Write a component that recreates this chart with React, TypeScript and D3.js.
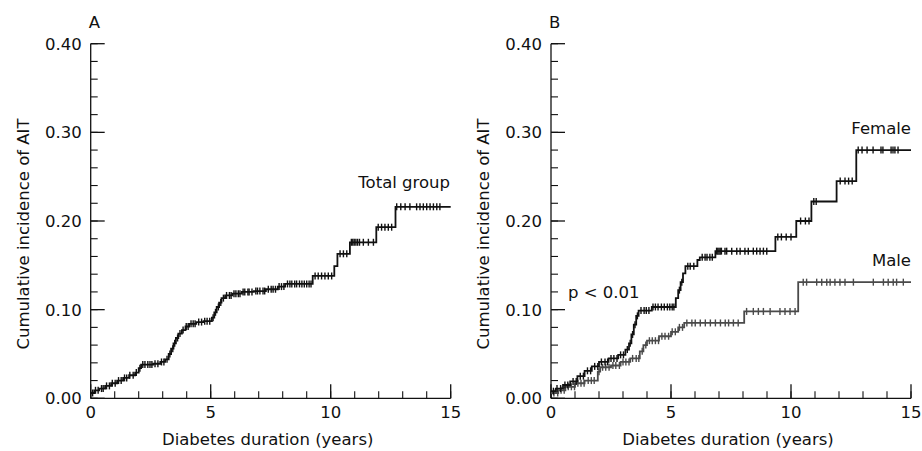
import React from "react";
import * as d3 from "d3";

// step points [years, cumulative incidence]
const totalSteps: [number, number][] = [
  [0, 0.006], [0.15, 0.009], [0.35, 0.011], [0.6, 0.014], [0.85, 0.017], [1.1, 0.02],
  [1.35, 0.023], [1.6, 0.026], [1.85, 0.029], [2.0, 0.034], [2.1, 0.038], [2.6, 0.039],
  [2.9, 0.041], [3.1, 0.044], [3.25, 0.05], [3.35, 0.056], [3.45, 0.062], [3.55, 0.068],
  [3.65, 0.073], [3.8, 0.077], [3.95, 0.081], [4.1, 0.084], [4.4, 0.086], [4.7, 0.087],
  [5.05, 0.091], [5.15, 0.097], [5.25, 0.103], [5.35, 0.108], [5.45, 0.113], [5.6, 0.116],
  [5.9, 0.118], [6.3, 0.12], [6.8, 0.121], [7.3, 0.123], [7.8, 0.126], [8.1, 0.129],
  [9.25, 0.138], [10.15, 0.149], [10.28, 0.163], [10.8, 0.176], [11.9, 0.193], [12.7, 0.216],
];
const totalCensor = [
  0.08, 0.2, 0.31, 0.45, 0.52, 0.66, 0.78, 0.9, 1.02, 1.16, 1.27, 1.41, 1.5, 1.63, 1.77, 1.9,
  2.05, 2.17, 2.26, 2.38, 2.47, 2.55, 2.68, 2.8, 2.95, 3.05, 3.18, 3.3, 3.42, 3.5, 3.62, 3.72,
  3.85, 3.98, 4.06, 4.18, 4.27, 4.35, 4.5, 4.62, 4.75, 4.85, 4.96, 5.1, 5.2, 5.32, 5.42, 5.53,
  5.66, 5.78, 5.85, 5.97, 6.05, 6.15, 6.22, 6.35, 6.42, 6.55, 6.6, 6.72, 6.88, 6.95, 7.05, 7.18,
  7.25, 7.4, 7.52, 7.6, 7.7, 7.85, 7.95, 8.05, 8.2, 8.3, 8.38, 8.5, 8.58, 8.7, 8.8, 8.9, 9.0,
  9.1, 9.18, 9.35, 9.48, 9.62, 9.76, 9.9, 10.04, 10.39, 10.53, 10.67, 10.86, 10.92, 10.98,
  11.05, 11.12, 11.2, 11.36, 11.57, 11.78, 11.98, 12.12, 12.26, 12.4, 12.54, 12.75, 12.92,
  13.1, 13.3, 13.58, 13.72, 13.86, 14.0, 14.14, 14.28, 14.42, 14.55,
];

const femaleSteps: [number, number][] = [
  [0, 0.008], [0.2, 0.011], [0.5, 0.015], [0.8, 0.019], [1.1, 0.025], [1.4, 0.031],
  [1.7, 0.036], [2.0, 0.041], [2.4, 0.045], [2.8, 0.049], [3.1, 0.055], [3.25, 0.062],
  [3.35, 0.072], [3.45, 0.083], [3.55, 0.093], [3.65, 0.099], [4.2, 0.103], [5.2, 0.113],
  [5.3, 0.122], [5.4, 0.131], [5.5, 0.141], [5.6, 0.149], [6.1, 0.156], [6.2, 0.159],
  [6.85, 0.166], [9.35, 0.182], [10.22, 0.2], [10.85, 0.222], [11.9, 0.245], [12.72, 0.28],
];
const femaleCensor = [
  0.1, 0.25, 0.4, 0.58, 0.7, 0.92, 1.05, 1.22, 1.35, 1.52, 1.65, 1.82, 1.95, 2.1, 2.25, 2.36,
  2.5, 2.62, 2.75, 2.9, 3.02, 3.18, 3.3, 3.4, 3.5, 3.6, 3.75, 3.88, 3.97, 4.08, 4.25, 4.35,
  4.46, 4.6, 4.72, 4.85, 4.95, 5.05, 5.12, 5.35, 5.45, 5.7, 5.8, 5.95, 6.3, 6.42, 6.5, 6.62,
  6.72, 6.9, 6.95, 7.0, 7.05, 7.1, 7.25, 7.32, 7.53, 7.74, 7.88, 8.08, 8.22, 8.43, 8.57, 8.71,
  8.85, 8.99, 9.45, 9.6, 9.8, 10.0, 10.4, 10.6, 10.75, 10.95, 11.05, 12.05, 12.25, 12.4, 12.55,
  12.8, 12.96, 13.17, 13.42, 13.75, 13.83, 14.17, 14.25, 14.33, 14.46,
];

const maleSteps: [number, number][] = [
  [0, 0.006], [0.3, 0.009], [0.6, 0.013], [1.0, 0.017], [1.4, 0.02], [1.95, 0.03],
  [2.05, 0.035], [2.5, 0.037], [2.9, 0.041], [3.3, 0.045], [3.7, 0.053], [3.85, 0.06],
  [4.0, 0.065], [4.5, 0.07], [5.0, 0.075], [5.3, 0.08], [5.55, 0.085], [8.05, 0.098],
  [10.3, 0.131],
];
const maleCensor = [
  0.12, 0.28, 0.42, 0.55, 0.72, 0.85, 0.98, 1.12, 1.25, 1.38, 1.55, 1.68, 1.8, 2.0, 2.15,
  2.28, 2.42, 2.58, 2.7, 2.85, 3.0, 3.12, 3.25, 3.4, 3.55, 3.66, 3.8, 3.95, 4.1, 4.22, 4.35,
  4.48, 4.62, 4.75, 4.9, 5.05, 5.18, 5.35, 5.48, 5.66, 5.87, 6.01, 6.22, 6.43, 6.64, 6.85,
  7.06, 7.26, 7.4, 7.6, 7.8, 8.15, 8.43, 8.64, 8.85, 9.13, 9.54, 9.75, 9.96, 10.17, 10.51,
  10.65, 11.07, 11.28, 11.49, 11.63, 11.83, 12.04, 12.25, 12.6, 13.43, 13.85, 14.05, 14.26,
  14.4, 14.68,
];

const xMajor = [0, 5, 10, 15];
const yMajor = [0, 0.1, 0.2, 0.3, 0.4];
const xMinor = d3.range(0, 16, 1);
const yMinor = d3.range(0, 0.401, 0.02);

const FONT = "DejaVu Sans";
const FS = 16.5;

type Curve = { steps: [number, number][]; censor: number[]; color: string; end: number };

function valueAt(steps: [number, number][], t: number) {
  let v = steps[0][1];
  for (const [s, val] of steps) if (s <= t) v = val;
  return v;
}

function Panel({ x0, letter, curves, children }: { x0: number; letter: string; curves: Curve[]; children?: React.ReactNode }) {
  const x = d3.scaleLinear().domain([0, 15]).range([x0, x0 + 360]);
  const y = d3.scaleLinear().domain([0, 0.4]).range([398.3, 43.7]);
  const line = d3.line<[number, number]>().x(d => x(d[0])).y(d => y(d[1])).curve(d3.curveStepAfter);
  const axisColor = "#111";
  return (
    <g fontFamily={FONT} fill="#111" fontSize={FS}>
      <text x={x0 - 2} y={28}>{letter}</text>
      {/* y axis */}
      <line x1={x(0)} x2={x(0)} y1={y(0)} y2={y(0.4)} stroke={axisColor} strokeWidth={1.3} />
      {yMinor.map((v, i) => (
        <line key={"ym" + i} x1={x(0)} x2={x(0) + 7} y1={y(v)} y2={y(v)} stroke={axisColor} strokeWidth={1.1} />
      ))}
      {yMajor.map(v => (
        <g key={"yM" + v}>
          <line x1={x(0)} x2={x(0) + 14} y1={y(v)} y2={y(v)} stroke={axisColor} strokeWidth={1.3} />
          <text x={x(0) - 9} y={y(v)} dy="0.36em" textAnchor="end">{d3.format(".2f")(v)}</text>
        </g>
      ))}
      {/* x axis */}
      <line x1={x(0)} x2={x(15)} y1={y(0)} y2={y(0)} stroke={axisColor} strokeWidth={1.3} />
      {xMinor.map(t => (
        <line key={"xm" + t} x1={x(t)} x2={x(t)} y1={y(0)} y2={y(0) - 7} stroke={axisColor} strokeWidth={1.1} />
      ))}
      {xMajor.map(t => (
        <g key={"xM" + t}>
          <line x1={x(t)} x2={x(t)} y1={y(0)} y2={y(0) - 14} stroke={axisColor} strokeWidth={1.3} />
          <text x={x(t)} y={418} textAnchor="middle">{t}</text>
        </g>
      ))}
      <text x={(x(0) + x(15)) / 2 - 3} y={445} textAnchor="middle">Diabetes duration (years)</text>
      <text transform={`translate(${x0 - 62},234) rotate(-90)`} textAnchor="middle">Cumulative incidence of AIT</text>
      {curves.map((c, ci) => (
        <g key={ci}>
          <path d={line([...c.steps, [c.end, c.steps[c.steps.length - 1][1]]]) || ""} fill="none" stroke={c.color} strokeWidth={1.8} />
          {c.censor.map((t, i) => (
            <line key={i} x1={x(t)} x2={x(t)} y1={y(valueAt(c.steps, t)) - 3.5} y2={y(valueAt(c.steps, t)) + 3.5} stroke={c.color} strokeWidth={1.4} />
          ))}
        </g>
      ))}
      {children}
    </g>
  );
}

export default function App() {
  return (
    <svg width={922} height={451} style={{ position: "absolute", left: 0, top: 0, background: "#fff" }}>
      <Panel x0={90.7} letter="A" curves={[{ steps: totalSteps, censor: totalCensor, color: "#111", end: 15 }]}>
        <text x={450} y={188} textAnchor="end">Total group</text>
      </Panel>
      <Panel x0={551} letter="B" curves={[
        { steps: maleSteps, censor: maleCensor, color: "#4a4a4a", end: 15 },
        { steps: femaleSteps, censor: femaleCensor, color: "#111", end: 15 },
      ]}>
        <text x={911} y={134} textAnchor="end">Female</text>
        <text x={911} y={266} textAnchor="end">Male</text>
        <text x={568} y={298}>p &lt; 0.01</text>
      </Panel>
    </svg>
  );
}
